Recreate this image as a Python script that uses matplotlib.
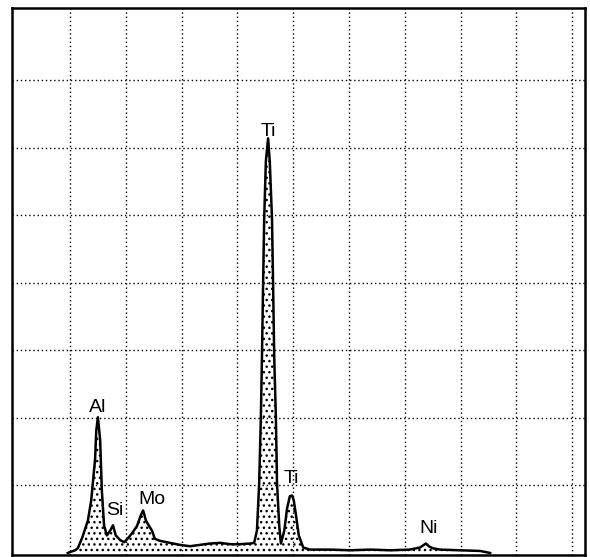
import numpy as np
import matplotlib
matplotlib.use("Agg")
import matplotlib.pyplot as plt

# EDS spectrum: energy (keV) vs counts (grid units)
energy = [0.96, 1.09, 1.14, 1.22, 1.32, 1.38, 1.45, 1.47, 1.50, 1.54, 1.57, 1.61,
          1.66, 1.72, 1.77, 1.82, 1.90, 1.97, 2.02, 2.11, 2.20, 2.27, 2.31, 2.36,
          2.41, 2.47, 2.52, 2.61, 2.79, 2.97, 3.15, 3.33, 3.51, 3.69, 3.87, 4.05,
          4.23, 4.30, 4.35, 4.39, 4.42, 4.44, 4.46, 4.48, 4.51, 4.55, 4.58, 4.62,
          4.64, 4.66, 4.69, 4.71, 4.75, 4.78, 4.84, 4.89, 4.94, 4.98, 5.01, 5.05,
          5.10, 5.18, 5.30, 5.66, 6.02, 6.38, 6.74, 7.09, 7.27, 7.38, 7.43, 7.50,
          7.63, 7.99, 8.35, 8.53]
counts = [0.00, 0.04, 0.07, 0.23, 0.48, 0.78, 1.40, 1.81, 2.01, 1.67, 0.93, 0.41,
          0.26, 0.33, 0.41, 0.26, 0.19, 0.16, 0.20, 0.29, 0.40, 0.56, 0.63, 0.48,
          0.41, 0.33, 0.21, 0.18, 0.15, 0.12, 0.10, 0.12, 0.14, 0.15, 0.13, 0.13,
          0.14, 0.15, 0.33, 1.03, 2.00, 2.90, 3.96, 4.95, 5.80, 6.14, 5.80, 4.95,
          3.96, 2.90, 2.00, 1.03, 0.40, 0.14, 0.33, 0.66, 0.84, 0.85, 0.78, 0.56,
          0.26, 0.08, 0.05, 0.05, 0.04, 0.05, 0.04, 0.05, 0.08, 0.14, 0.10, 0.07,
          0.05, 0.04, 0.03, 0.00]

labels = ["Al", "Si", "Mo", "Ti", "Ti", "Ni"]
label_x = [1.50, 1.80, 2.47, 4.55, 4.96, 7.43]
label_y = [2.09, 0.56, 0.73, 6.18, 1.04, 0.29]

fig = plt.figure(figsize=(5.9, 5.57), dpi=100)
ax = fig.add_axes([12 / 590, 2 / 557, 573 / 590, 547 / 557])

plt.rcParams['hatch.linewidth'] = 1.0
ax.fill_between(energy, counts, 0, facecolor='none', edgecolor='black',
                hatch='...', linewidth=0)
ax.plot(energy, counts, color='black', linewidth=1.8)

for lab, lx, ly in zip(labels, label_x, label_y):
    ax.text(lx, ly, lab, ha='center', va='baseline', fontsize=14,
            family=['Liberation Sans', 'DejaVu Sans'])

ax.set_xlim(-0.04, 10.23)
ax.set_ylim(-0.03, 8.07)
ax.set_xticks(np.arange(1, 11))
ax.set_yticks(np.arange(1, 8))
ax.grid(True, color='black', linestyle=(0, (1, 2)), linewidth=1.0)
ax.tick_params(length=0, labelbottom=False, labelleft=False)
for sp in ax.spines.values():
    sp.set_linewidth(1.8)

fig.savefig("out.png", dpi=100)
